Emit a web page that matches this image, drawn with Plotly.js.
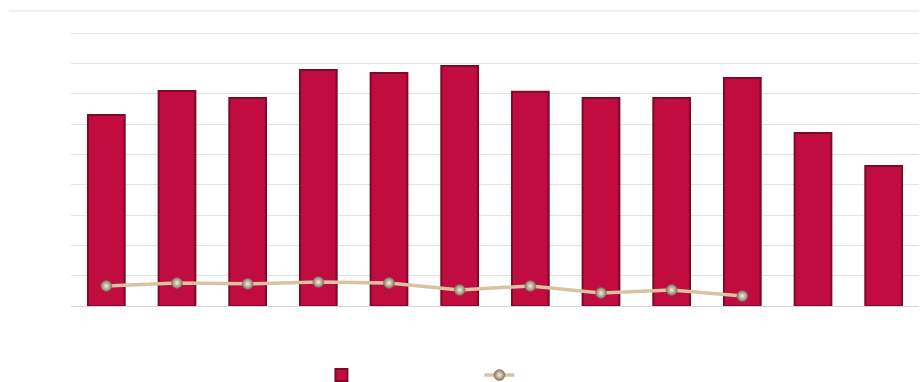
<!DOCTYPE html>
<html>
<head>
<meta charset="utf-8">
<script src="https://cdn.plot.ly/plotly-3.0.1.min.js"></script>
<style>html,body{margin:0;padding:0;background:#fff;}#chart{width:921px;height:382px;}</style>
</head>
<body>
<div id="chart"></div>
<script>
var categories = ['1','2','3','4','5','6','7','8','9','10','11','12'];
var barValues = [6.30, 7.09, 6.86, 7.78, 7.68, 7.91, 7.06, 6.86, 6.86, 7.52, 5.70, 4.62];
var lineValues = [0.66, 0.76, 0.73, 0.79, 0.76, 0.53, 0.66, 0.43, 0.53, 0.33, null, null];

var traces = [
  {
    type: 'bar', x: categories, y: barValues, name: ' ',
    width: 0.52,
    marker: {color: '#C00C3E', line: {color: '#7c0a28', width: 2}},
    hoverinfo: 'none'
  },
  {
    type: 'scatter', mode: 'lines+markers', x: categories, y: lineValues, name: ' ',
    line: {color: '#D9C3A0', width: 3.5},
    marker: {size: 11, color: '#8a7864', gradient: {type: 'radial', color: '#f6efe4'}, line: {color: '#7a6c5a', width: 0.5}},
    hoverinfo: 'none'
  }
];

var layout = {
  width: 921, height: 382,
  margin: {l: 71, r: 2, t: 30, b: 76, autoexpand: false},
  paper_bgcolor: '#ffffff', plot_bgcolor: '#ffffff',
  showlegend: true,
  legend: {orientation: 'h', xref: 'paper', yref: 'paper', x: 0.2953, xanchor: 'left', y: -0.25, yanchor: 'middle',
           entrywidth: 113, entrywidthmode: 'pixels', font: {size: 11, color: '#333'}, bgcolor: 'rgba(0,0,0,0)'},
  xaxis: {type: 'category', showticklabels: false, showgrid: false, zeroline: false, ticks: '', showline: false, range: [-0.5, 11.5]},
  yaxis: {range: [0, 9.1], dtick: 1, showticklabels: false, showgrid: true, gridcolor: '#e2e2e2', gridwidth: 1, zeroline: true, zerolinecolor: '#d6d6d6', zerolinewidth: 1, ticks: ''},
  shapes: [
    {type: 'line', xref: 'paper', yref: 'paper', x0: -0.073, x1: 1, y0: 1.0688, y1: 1.0688, line: {color: '#e2e2e2', width: 1}}
  ]
};

Plotly.newPlot('chart', traces, layout, {displayModeBar: false, staticPlot: true});
</script>
</body>
</html>
